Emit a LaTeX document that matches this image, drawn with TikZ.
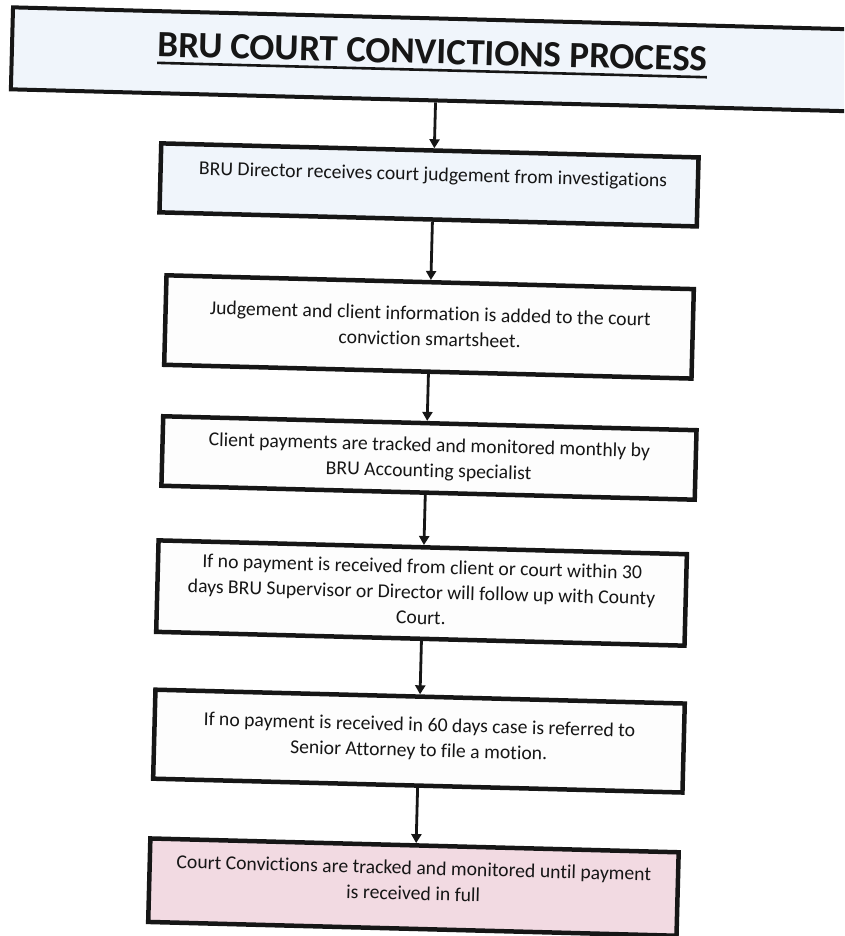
\documentclass[tikz,border=0pt]{standalone}
\usepackage{fontspec}
\setmainfont{Carlito}[Ligatures=CommonOff]
\usetikzlibrary{arrows.meta}
\definecolor{ink}{RGB}{22,22,22}
\definecolor{bluefill}{RGB}{240,245,251}
\definecolor{pinkfill}{RGB}{242,218,226}
\definecolor{plainfill}{RGB}{253,253,253}
\newcommand\titleul[1]{\setbox0\hbox{#1}\rlap{\rule[-7.5pt]{\wd0}{2.6pt}}\box0}
\begin{document}
\begin{tikzpicture}[x=1pt,y=-1pt,
  boxstyle/.style={draw=ink, line width=4.5pt, rectangle, inner sep=0pt},
  txt/.style={align=center, font=\fontsize{19.7}{25.5}\selectfont, text=ink, inner sep=0pt},
  arr/.style={draw=ink, line width=2.8pt, -{Triangle[length=9pt,width=10pt]}}]
\useasboundingbox (0,0) rectangle (844,936);
\fill[white] (0,0) rectangle (844,936);
\clip (0,0) rectangle (844,936);
\begin{scope}[rotate around={-1.5:(422,468)}, transform shape]
  % title
  \node[boxstyle, line width=4pt, fill=bluefill, minimum width=841pt, minimum height=82pt] (title) at (421.6,59.2) {};
  \node[anchor=base, font=\bfseries\fontsize{37}{44}\selectfont, text=ink, inner sep=0pt] (ttl) at (421.6,63.7) {\titleul{BRU COURT CONVICTIONS PROCESS}};
  % boxes
  \node[boxstyle, fill=bluefill, minimum width=537.5pt, minimum height=69pt] (b1) at (421.6,184.8) {};
  \node[boxstyle, fill=plainfill, minimum width=527.5pt, minimum height=89.5pt] (b2) at (425.3,326.8) {};
  \node[boxstyle, fill=plainfill, minimum width=533.5pt, minimum height=69.5pt] (b3) at (428.7,457.8) {};
  \node[boxstyle, fill=plainfill, minimum width=528.5pt, minimum height=91.5pt] (b4) at (424.8,593) {};
  \node[boxstyle, fill=plainfill, minimum width=529.5pt, minimum height=89pt] (b5) at (426.1,741.1) {};
  \node[boxstyle, fill=pinkfill, minimum width=528.5pt, minimum height=83.5pt] (b6) at (424.4,887.2) {};
  % texts
  \node[txt, anchor=base] (t1) at (425.4,180.7) {BRU Director receives court judgement from investigations};
  \node[txt] (t2) at (426.3,326) {Judgement and client information is added to the court\\conviction smartsheet.};
  \node[txt] (t3) at (428.7,459) {Client payments are tracked and monitored monthly by\\BRU Accounting specialist};
  \node[txt] (t4) at (424.8,592) {If no payment is received from client or court within 30\\days BRU Supervisor or Director will follow up with County\\Court.};
  \node[txt] (t5) at (426.1,738.7) {If no payment is received in 60 days case is referred to\\Senior Attorney to file a motion.};
  \node[txt] (t6) at (424.4,880.5) {Court Convictions are tracked and monitored until payment\\is received in full};
  % arrows
  \draw[arr] ([xshift=4.4pt]title.south) -- ([xshift=4.4pt]b1.north);
  \draw[arr] ([xshift=4.4pt]b1.south) -- ([xshift=0.7pt]b2.north);
  \draw[arr] ([xshift=0.7pt]b2.south) -- ([xshift=-2.7pt]b3.north);
  \draw[arr] ([xshift=-2.7pt]b3.south) -- ([xshift=1.2pt]b4.north);
  \draw[arr] ([xshift=1.2pt]b4.south) -- ([xshift=-0.1pt]b5.north);
  \draw[arr] ([xshift=-0.1pt]b5.south) -- ([xshift=1.6pt]b6.north);
\end{scope}
\end{tikzpicture}
\end{document}
